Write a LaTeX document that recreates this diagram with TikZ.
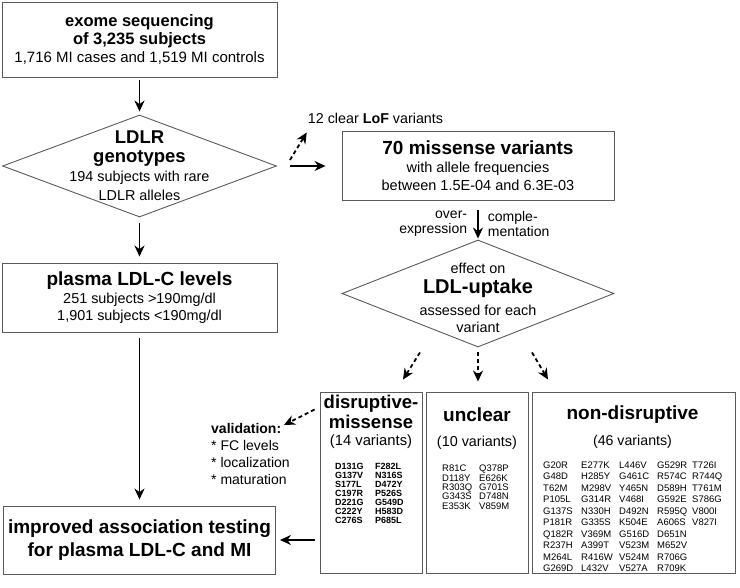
\documentclass[tikz,border=0pt]{standalone}
\usepackage{fontspec}
\setmainfont{Liberation Sans}
\usetikzlibrary{arrows.meta,shapes.geometric}
\definecolor{framegray}{RGB}{90,90,90}
\newcommand{\bighead}{\fontsize{19}{21}\selectfont\bfseries}
\newcommand{\subline}{\fontsize{14.4}{17}\selectfont\mdseries}
\tikzset{
	box/.style={draw=framegray,line width=0.9pt,inner sep=0pt,align=center},
	decision/.style={draw=framegray,line width=0.9pt,diamond,inner sep=0pt},
	txt/.style={inner sep=0pt,align=center},
	varlist/.style={inner sep=0pt,anchor=north west},
	flow/.style={-{Stealth[length=11pt,width=10pt]},line width=1.8pt,shorten <=6pt,shorten >=6pt},
	maybe/.style={-{Stealth[length=11pt,width=10pt]},line width=1.8pt,dash pattern=on 4pt off 3pt},
}
\begin{document}
\begin{tikzpicture}[x=1pt,y=-1pt]
	\useasboundingbox (0,0) rectangle (740,588);
	\node[box,minimum width=275pt,minimum height=75pt,font=\fontsize{16.5}{18}\selectfont\bfseries] (exome) at (139.5,39.5) {exome sequencing\\of 3,235 subjects\\\fontsize{15}{17}\selectfont\mdseries 1,716 MI cases and 1,519 MI controls};
	\node[decision,minimum width=274pt,minimum height=102pt] (ldlr) at (139.5,166) {};
	\node[txt,font=\fontsize{18.5}{19}\selectfont\bfseries] (ldlrtxt) at (139.5,166) {LDLR\\genotypes\\\subline 194 subjects with rare\\\subline LDLR alleles};
	\node[box,minimum width=275pt,minimum height=69pt,font=\subline] (plasma) at (139.5,297.5) {\bighead plasma LDL-C levels\\[1pt]251 subjects >190mg/dl\\1,901 subjects <190mg/dl};
	\node[box,minimum width=272pt,minimum height=68pt,font=\fontsize{19}{23}\selectfont\bfseries] (improved) at (139.5,540) {improved association testing\\for plasma LDL-C and MI};
	\node[txt,font=\fontsize{14.3}{17}\selectfont] (lof) at (375.5,118) {12 clear \textbf{LoF} variants};
	\node[box,minimum width=272pt,minimum height=69pt,font=\fontsize{14.5}{18}\selectfont] (missense) at (478,166) {\bighead 70 missense variants\\with allele frequencies\\between 1.5E-04 and 6.3E-03};
	\node[decision,minimum width=272pt,minimum height=107pt] (uptake) at (478,293.5) {};
	\node[txt,font=\subline] (uptaketxt) at (478,298) {effect on\\[3pt]\fontsize{20}{22}\selectfont\bfseries LDL-uptake\\[5pt]assessed for each\\variant};
	\node[box,minimum width=102pt,minimum height=181pt] (disrupt) at (371,482.5) {};
	\node[box,minimum width=102pt,minimum height=181pt] (unclear) at (477,482.5) {};
	\node[box,minimum width=203pt,minimum height=181pt] (nondis) at (633.5,482.5) {};
	\node[txt,font=\fontsize{18.5}{20}\selectfont\bfseries] (disrupthead) at (371,412) {disruptive-\\missense};
	\node[txt,font=\fontsize{14.8}{17}\selectfont] (disruptcount) at (371,442) {(14 variants)};
	\node[varlist] (disruptlist) at (335,463) {\fontsize{9}{9}\selectfont\bfseries
		\begin{tabular}{@{}p{40pt}@{}l@{}}
			D131G & F282L\\ G137V & N316S\\ S177L & D472Y\\ C197R & P526S\\
			D221G & G549D\\ C222Y & H583D\\ C276S & P685L
		\end{tabular}};
	\node[txt,font=\fontsize{19}{21}\selectfont\bfseries] (uncleartitle) at (477,415) {unclear};
	\node[txt,font=\fontsize{14.4}{17}\selectfont] (unclearcount) at (477,443) {(10 variants)};
	\node[varlist] (unclearlist) at (442,465) {\fontsize{9.5}{9}\selectfont
		\begin{tabular}{@{}p{37pt}@{}l@{}}
			R81C & Q378P\\ D118Y & E626K\\ R303Q & G701S\\ G343S & D748N\\ E353K & V859M
		\end{tabular}};
	\node[txt,font=\fontsize{19}{21}\selectfont\bfseries] (nondistitle) at (632.5,415) {non-disruptive};
	\node[txt,font=\fontsize{14.2}{17}\selectfont] (nondiscount) at (632.5,442) {(46 variants)};
	\node[varlist] (nondislist) at (543,460) {\fontsize{9.5}{11.5}\selectfont
		\begin{tabular}{@{}p{38pt}@{}p{38pt}@{}p{38pt}@{}p{35pt}@{}l@{}}
			G20R & E277K & L446V & G529R & T726I\\
			G48D & H285Y & G461C & R574C & R744Q\\
			T62M & M298V & Y465N & D589H & T761M\\
			P105L & G314R & V468I & G592E & S786G\\
			G137S & N330H & D492N & R595Q & V800I\\
			P181R & G335S & K504E & A606S & V827I\\
			Q182R & V369M & G516D & D651N & \\
			R237H & A399T & V523M & M652V & \\
			M264L & R416W & V524M & R706G & \\
			G269D & L432V & V527A & R709K &
		\end{tabular}};
	\node[txt,align=left,anchor=north west,font=\fontsize{14}{17}\selectfont] (valid) at (211,423) {\textbf{validation:}\\* FC levels\\* localization\\* maturation};
	\draw[flow,shorten <=3pt,shorten >=3pt] (exome) -- (ldlr);
	\draw[flow] (ldlr) -- (plasma);
	\draw[flow] (plasma) -- (improved);
	\draw[flow,shorten <=13pt,shorten >=16pt] (ldlr.east) -- (ldlr.east -| missense.west);
	\draw[maybe] ([shift={(13,-6)}]ldlr.east) -- ([shift={(-1,9)}]lof.south west);
	\draw[flow,shorten <=9pt,shorten >=1pt] (missense) -- node[txt,pos=0.6,anchor=east,xshift=-10pt,align=right,font=\fontsize{14}{15}\selectfont]{over-\\expression} node[txt,pos=0.6,anchor=west,xshift=9pt,align=left,font=\fontsize{14}{15}\selectfont]{comple-\\mentation} (uptake);
	\draw[maybe] ([shift={(-58,5)}]uptake.south) -- ([shift={(32,-12)}]disrupt.north);
	\draw[maybe] ([shift={(0,5)}]uptake.south) -- ([shift={(1,-10)}]unclear.north);
	\draw[maybe] ([shift={(54,5)}]uptake.south) -- ([shift={(-85.5,-12)}]nondis.north);
	\draw[maybe] ([shift={(-5,18)}]disrupt.north west) -- ([shift={(-6,2)}]valid.north east);
	\draw[flow,shorten <=5pt,shorten >=4pt] (disrupt.west |- improved.east) -- (improved.east);
\end{tikzpicture}
\end{document}
